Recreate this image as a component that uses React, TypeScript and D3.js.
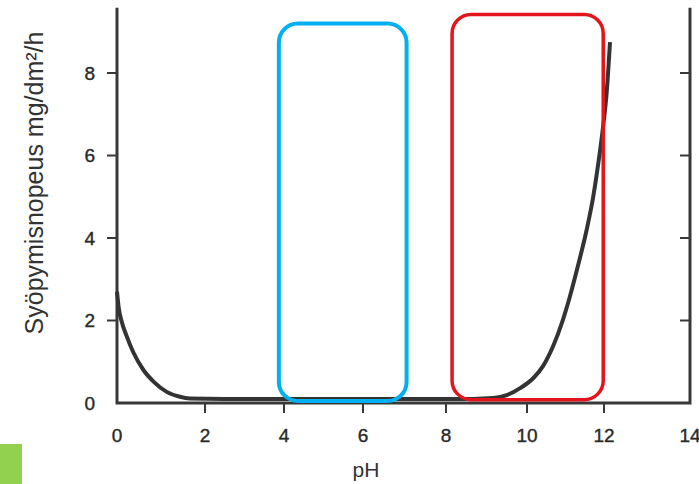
import React from "react";
import * as d3 from "d3";

// Data
const phValues = [0, 0.04, 0.1, 0.22, 0.37, 0.6, 0.83, 1.13, 1.43, 1.66, 2.5, 4, 6, 8, 8.67, 9.17, 9.5, 9.83, 10.16, 10.42, 10.68, 10.92, 11.12, 11.33, 11.55, 11.72, 11.85, 11.97, 12.06, 12.14];
const rateValues = [2.7, 2.3, 2.0, 1.62, 1.23, 0.8, 0.52, 0.27, 0.15, 0.11, 0.1, 0.1, 0.1, 0.1, 0.1, 0.12, 0.19, 0.36, 0.6, 0.9, 1.38, 1.98, 2.6, 3.35, 4.2, 5.0, 5.8, 6.65, 7.5, 8.75];
const xTicks = [0, 2, 4, 6, 8, 10, 12, 14];
const yTicks = [0, 2, 4, 6, 8];
// highlighted pH ranges (boxes)
const blueRange = [3.87, 7.05];
const redRange = [8.15, 11.98];
const blueRate = [0.05, 9.2];
const redRate = [0.08, 9.42];

const W = 699;
const H = 484;

export default function App() {
  const x = d3
    .scaleLinear()
    .domain(xTicks)
    .range([117, 205, 284, 363, 446, 527, 604, 690]);
  const y = d3.scaleLinear().domain([0, 8]).range([403, 73]);
  const yMax = 9.58;

  const pts = phValues.map((p, i) => [p, rateValues[i]] as [number, number]);
  const line = d3
    .line<[number, number]>()
    .x((d) => x(d[0]))
    .y((d) => y(d[1]))
    .curve(d3.curveMonotoneX);

  const axisColor = "#383838";
  const labelFont = "'Liberation Sans', Arial, sans-serif";

  const box = (r: number[], v: number[], color: string, sw: number) => (
    <rect
      x={x(r[0])}
      y={y(v[1])}
      width={x(r[1]) - x(r[0])}
      height={y(v[0]) - y(v[1])}
      rx={19}
      ry={19}
      fill="none"
      stroke={color}
      strokeWidth={sw}
    />
  );

  return (
    <svg
      width={W}
      height={H}
      style={{ position: "absolute", left: 0, top: 0, background: "#fff" }}
    >
      <rect x={0} y={0} width={W} height={H} fill="#fff" />
      {/* frame */}
      <path
        d={`M${x(0)},${y(yMax)} V${y(0)} H${x(14)} V${y(yMax)}`}
        fill="none"
        stroke={axisColor}
        strokeWidth={3}
        strokeLinejoin="miter"
      />
      {/* left ticks */}
      {yTicks.map((t) => (
        <g key={"yl" + t}>
          {t > 0 && (
            <line x1={x(0) - 10} x2={x(0)} y1={y(t)} y2={y(t)} stroke={axisColor} strokeWidth={2} />
          )}
          <text
            x={95}
            y={y(t)}
            dy="0.36em"
            textAnchor="end"
            fontFamily={labelFont}
            fontSize={19}
            fill="#2a2a2a"
            stroke="#2a2a2a"
            strokeWidth={0.4}
          >
            {t}
          </text>
        </g>
      ))}
      {/* right ticks */}
      {yTicks.filter((t) => t > 0).map((t) => (
        <line key={"yr" + t} x1={x(14) - 10} x2={x(14)} y1={y(t)} y2={y(t)} stroke={axisColor} strokeWidth={2} />
      ))}
      {/* bottom ticks */}
      {xTicks.map((t) => (
        <g key={"x" + t}>
          {t > 0 && t < 14 && (
            <line x1={x(t)} x2={x(t)} y1={y(0)} y2={y(0) + 10} stroke={axisColor} strokeWidth={2} />
          )}
          <text
            x={x(t)}
            y={442}
            textAnchor="middle"
            fontFamily={labelFont}
            fontSize={19}
            fill="#2a2a2a"
            stroke="#2a2a2a"
            strokeWidth={0.4}
          >
            {t}
          </text>
        </g>
      ))}
      {/* curve */}
      <path d={line(pts) || ""} fill="none" stroke="#333" strokeWidth={4} strokeLinecap="butt" />
      {/* boxes */}
      {box(blueRange, blueRate, "#00b0f0", 4)}
      {box(redRange, redRate, "#e3141c", 3.5)}
      {/* axis titles */}
      <text
        x={366}
        y={477}
        textAnchor="middle"
        fontFamily={labelFont}
        fontSize={21}
        fill="#333"
      >
        pH
      </text>
      <text
        transform={`translate(43,183) rotate(-90)`}
        textAnchor="middle"
        fontFamily={labelFont}
        fontSize={25}
        fill="#333"
      >
        Syöpymisnopeus  mg/dm²/h
      </text>
      {/* green marker */}
      <rect x={0} y={444} width={22} height={40} fill="#92d050" />
    </svg>
  );
}
